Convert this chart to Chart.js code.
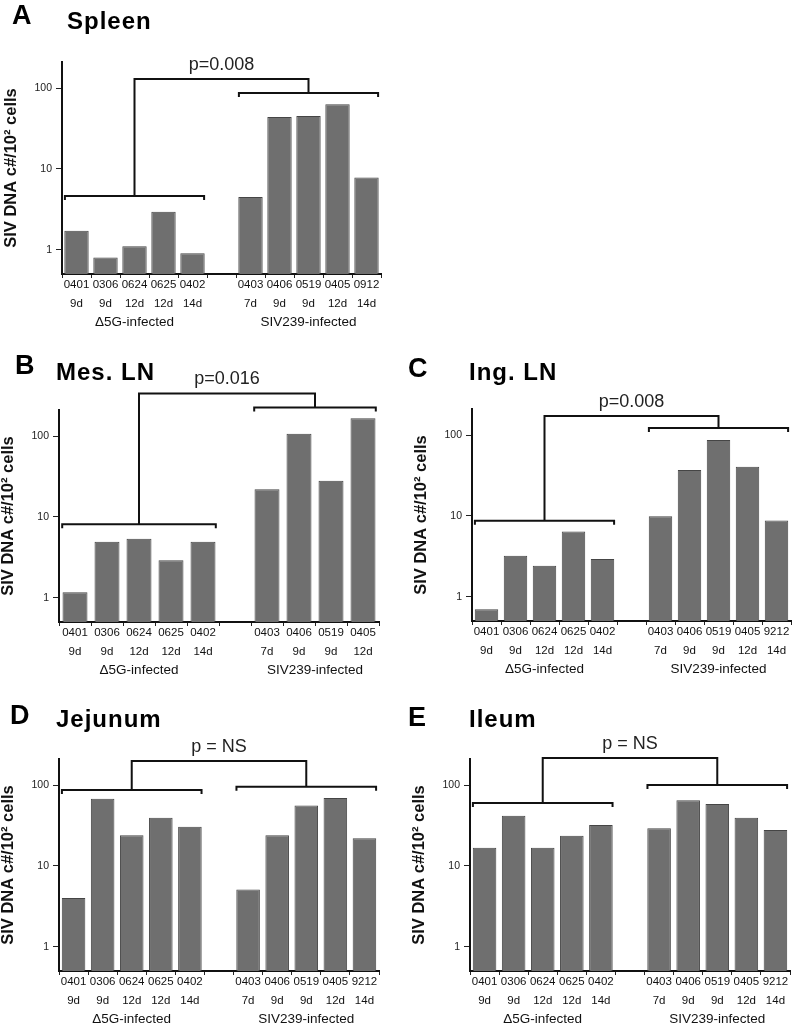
<!DOCTYPE html>
<html>
<head>
<meta charset="utf-8">
<script src="https://cdn.jsdelivr.net/npm/chart.js@4.4.1/dist/chart.umd.min.js"></script>
<style>
  html, body { margin: 0; padding: 0; background: #fff; overflow: hidden; }
  body { width: 794px; height: 1026px; position: relative; font-family: 'Liberation Sans', Arial, sans-serif; }
  canvas { position: absolute; }
  .tag { position: absolute; font-weight: bold; line-height: 1; color: #000; white-space: nowrap; }
</style>
</head>
<body>
<script>
// y axis is log, only the decades get a label
const yTicks = [1, 10, 100];
const groupNames = ['\u03945G-infected', 'SIV239-infected'];

const d5gAnimals = ['0401', '0306', '0624', '0625', '0402'];
const d5gDays = ['9d', '9d', '12d', '12d', '14d'];
const sivAnimalsSpleen = ['0403', '0406', '0519', '0405', '0912'];
const sivAnimalsMes = ['0403', '0406', '0519', '0405'];
const sivAnimals = ['0403', '0406', '0519', '0405', '9212'];
const sivDays = ['7d', '9d', '9d', '12d', '14d'];

// SIV DNA copies per 10^2 cells
const spleenD5g = [1.72, 0.80, 1.10, 2.94, 0.90];
const spleenSiv = [4.5, 43.9, 45, 63, 7.8];
const mesLnD5g = [1.17, 4.93, 5.37, 2.9, 4.93];
const mesLnSiv = [21.9, 107, 28, 166];
const ingLnD5g = [0.70, 3.2, 2.41, 6.4, 2.92];
const ingLnSiv = [9.9, 37, 86.8, 40.6, 8.75];
const jejunumD5g = [4.0, 67.9, 23.9, 39.5, 30.5];
const jejunumSiv = [5.1, 23.9, 56, 69, 22];
const ileumD5g = [16.8, 41.8, 16.8, 23.6, 32];
const ileumSiv = [29.1, 64.7, 58.2, 39.5, 27.7];

// bracket levels (data units): left group, right group, joining bar
const spleenBrackets = [4.6, 86.7, 129];
const mesLnBrackets = [8.1, 226, 337];
const ingLnBrackets = [8.67, 122, 172];
const jejunumBrackets = [86.7, 95.5, 198];
const ileumBrackets = [59.9, 100, 216];

const FONT = "'Liberation Sans', Arial, sans-serif";
Chart.defaults.font.family = FONT;
Chart.defaults.color = '#111';

function tag(text, x, baseline, size, spacing) {
  const el = document.createElement('div');
  el.className = 'tag';
  el.textContent = text;
  el.style.left = x + 'px';
  el.style.top = (baseline - 0.8465 * size) + 'px';
  el.style.fontSize = size + 'px';
  if (spacing) el.style.letterSpacing = spacing + 'px';
  document.body.appendChild(el);
}

const bracketPlugin = {
  id: 'brackets',
  afterDraw(chart, args, opts) {
    const { ctx, chartArea } = chart;
    const x = chart.scales.x, y = chart.scales.y;
    const [lv, rv, tv] = opts.levels;
    const g = opts.groups;
    const ly = y.getPixelForValue(lv), ry = y.getPixelForValue(rv), ty = y.getPixelForValue(tv);
    const lStem = x.getPixelForValue((g[0][0] + g[0][1]) / 2);
    const rStem = x.getPixelForValue((g[1][0] + g[1][1]) / 2);
    ctx.save();
    ctx.strokeStyle = '#111';
    ctx.lineWidth = 2;
    ctx.lineJoin = 'miter';
    [[g[0], ly], [g[1], ry]].forEach(([span, py]) => {
      const x0 = x.getPixelForValue(span[0] - 0.4);
      const x1 = x.getPixelForValue(span[1] + 0.4);
      ctx.beginPath();
      ctx.moveTo(x0, py + 4);
      ctx.lineTo(x0, py);
      ctx.lineTo(x1, py);
      ctx.lineTo(x1, py + 4);
      ctx.stroke();
    });
    ctx.beginPath();
    ctx.moveTo(lStem, ly);
    ctx.lineTo(lStem, ty);
    ctx.lineTo(rStem, ty);
    ctx.lineTo(rStem, ry);
    ctx.stroke();

    ctx.fillStyle = '#222';
    ctx.textAlign = 'center';
    ctx.textBaseline = 'middle';
    ctx.font = '18px ' + FONT;
    ctx.fillText(opts.pText, (lStem + rStem) / 2, ty - 14);

    ctx.fillStyle = '#111';
    ctx.font = '13.5px ' + FONT;
    g.forEach((span, i) => {
      ctx.fillText(groupNames[i], x.getPixelForValue((span[0] + span[1]) / 2), chartArea.bottom + 48);
    });
    ctx.restore();
  }
};

function makePanel(p) {
  const labels = d5gAnimals.map((a, i) => [a, d5gDays[i]])
    .concat([''])
    .concat(p.siv.map((a, i) => [a, sivDays[i]]));
  const values = p.d5g.concat([null]).concat(p.sivValues);
  const n = labels.length;

  const padTop = 50, xH = 58, yW = 60, padRight = 6;
  const canvas = document.createElement('canvas');
  canvas.width = yW + p.plotW + padRight;
  canvas.height = padTop + 212 + xH;
  canvas.style.left = (p.axisX - yW) + 'px';
  canvas.style.top = (p.axisTop - padTop) + 'px';
  document.body.appendChild(canvas);

  tag(p.letter, p.letterX, p.letterBase, 27);
  tag(p.title, p.titleX, p.titleBase, 24, 1);

  new Chart(canvas, {
    type: 'bar',
    data: {
      labels: labels,
      datasets: [{
        data: values,
        backgroundColor: '#6f6f6f',
        borderColor: '#454545',
        borderWidth: 1,
        barPercentage: p.barPct,
        categoryPercentage: 1
      }]
    },
    options: {
      responsive: false,
      animation: false,
      layout: { padding: { top: padTop, right: padRight, left: 0, bottom: 0 } },
      plugins: {
        legend: { display: false },
        tooltip: { enabled: false },
        brackets: { levels: p.brackets, groups: [[0, 4], [6, n - 1]], pText: p.pText }
      },
      scales: {
        x: {
          type: 'category',
          offset: true,
          grid: { offset: true, drawOnChartArea: false, drawTicks: true, tickLength: 4, color: '#222', lineWidth: 1 },
          border: { display: true, color: '#111', width: 2 },
          ticks: { autoSkip: false, maxRotation: 0, minRotation: 0, padding: -2, color: '#111',
                   font: { size: 11.5, lineHeight: 1.6 } },
          afterFit: s => { s.height = xH; }
        },
        y: {
          type: 'logarithmic',
          min: 0.5,
          max: 210,
          afterBuildTicks: s => { s.ticks = yTicks.map(v => ({ value: v })); },
          ticks: { callback: v => String(v), padding: 4, color: '#222', font: { size: 10.5 } },
          grid: { drawOnChartArea: false, tickLength: 6, color: '#222' },
          border: { display: true, color: '#111', width: 2 },
          title: { display: true, text: 'SIV DNA c#/10\u00b2 cells', padding: 0, color: '#111',
                   font: { size: 16.5, weight: 'bold' } },
          afterFit: s => { s.width = yW; }
        }
      }
    },
    plugins: [bracketPlugin]
  });
}

makePanel({ letter: 'A', title: 'Spleen', letterX: 12, letterBase: 25, titleX: 67, titleBase: 29,
  axisX: 62, axisTop: 62, plotW: 319, barPct: 0.84,
  d5g: spleenD5g, siv: sivAnimalsSpleen, sivValues: spleenSiv, brackets: spleenBrackets, pText: 'p=0.008' });
makePanel({ letter: 'B', title: 'Mes. LN', letterX: 15, letterBase: 375, titleX: 56, titleBase: 380,
  axisX: 59, axisTop: 410, plotW: 320, barPct: 0.78,
  d5g: mesLnD5g, siv: sivAnimalsMes, sivValues: mesLnSiv, brackets: mesLnBrackets, pText: 'p=0.016' });
makePanel({ letter: 'C', title: 'Ing. LN', letterX: 408, letterBase: 378, titleX: 469, titleBase: 380,
  axisX: 472, axisTop: 409, plotW: 319, barPct: 0.81,
  d5g: ingLnD5g, siv: sivAnimals, sivValues: ingLnSiv, brackets: ingLnBrackets, pText: 'p=0.008' });
makePanel({ letter: 'D', title: 'Jejunum', letterX: 10, letterBase: 725, titleX: 56, titleBase: 727,
  axisX: 59, axisTop: 759, plotW: 320, barPct: 0.81,
  d5g: jejunumD5g, siv: sivAnimals, sivValues: jejunumSiv, brackets: jejunumBrackets, pText: 'p = NS' });
makePanel({ letter: 'E', title: 'Ileum', letterX: 408, letterBase: 727, titleX: 469, titleBase: 727,
  axisX: 470, axisTop: 759, plotW: 320, barPct: 0.81,
  d5g: ileumD5g, siv: sivAnimals, sivValues: ileumSiv, brackets: ileumBrackets, pText: 'p = NS' });
</script>
</body>
</html>
